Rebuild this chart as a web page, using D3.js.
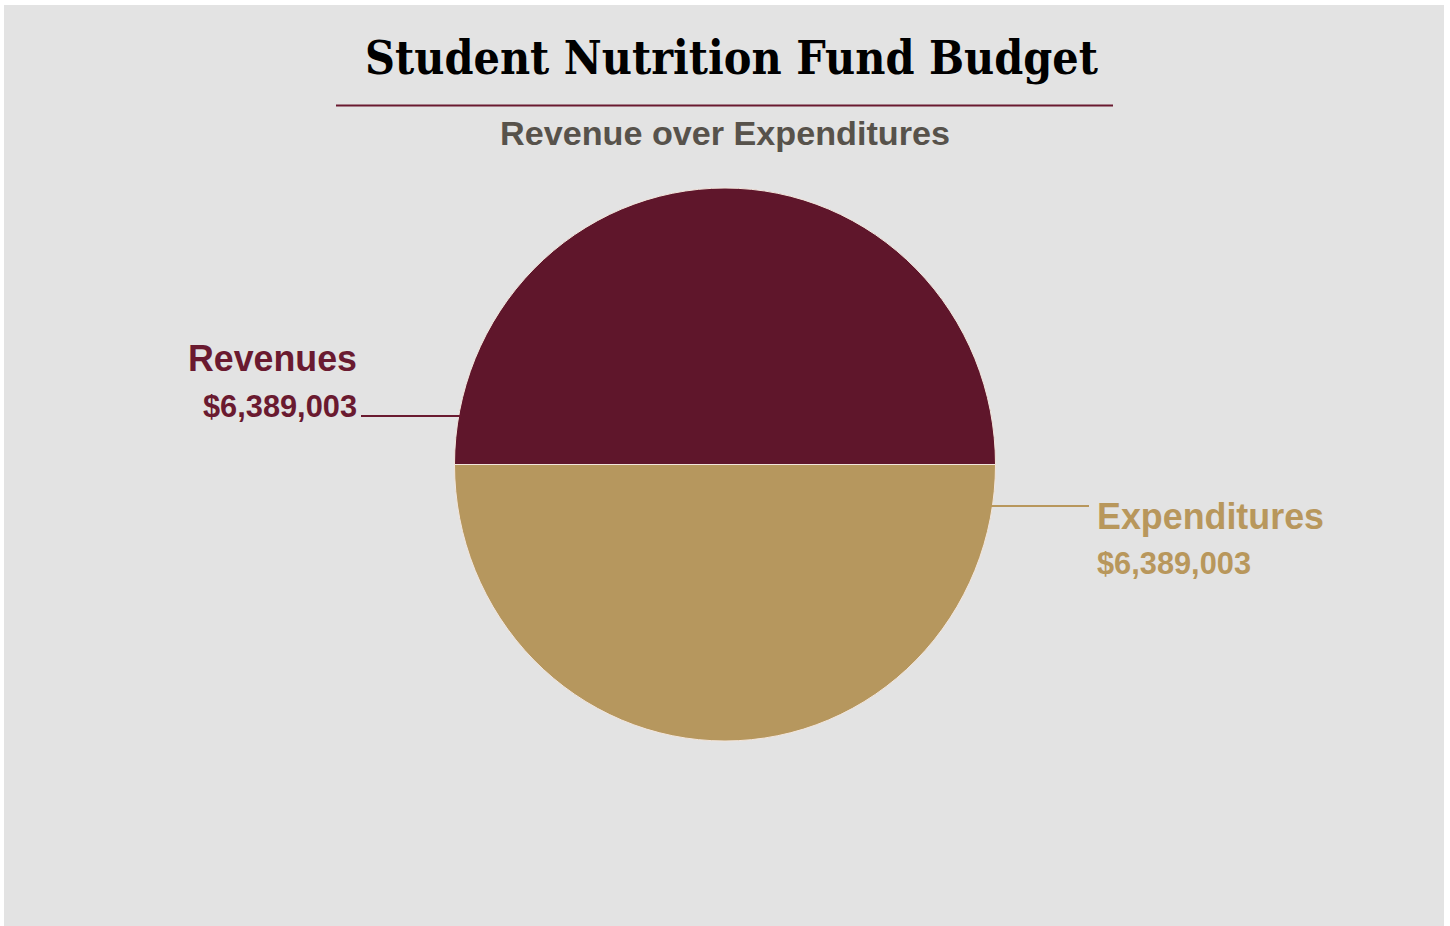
<!DOCTYPE html>
<html>
<head>
<meta charset="utf-8">
<script src="https://cdn.jsdelivr.net/npm/d3@7"></script>
<style>
  html, body { margin: 0; padding: 0; background: #ffffff; }
  svg { display: block; }
</style>
</head>
<body>
<svg id="chart" width="1450" height="926"></svg>
<script>
// Budget figures
const categories = ["Revenues", "Expenditures"];
const amounts = [6389003, 6389003];
const titleText = "Student Nutrition Fund Budget";
const subtitleText = "Revenue over Expenditures";

const sliceColors = ["#5f162b", "#b6975e"];
const labelColors = ["#6a1a30", "#b8975c"];

const svg = d3.select("#chart");
const W = 1450, H = 926;

// panel background
svg.append("rect")
  .attr("x", 4).attr("y", 5)
  .attr("width", 1440).attr("height", H - 5)
  .attr("fill", "#e3e3e3");

// title block
svg.append("text")
  .attr("x", 731.5).attr("y", 74)
  .attr("text-anchor", "middle")
  .attr("font-family", "Georgia, 'DejaVu Serif', serif")
  .attr("font-weight", "bold")
  .attr("font-size", 47)
  .attr("textLength", 733)
  .attr("lengthAdjust", "spacingAndGlyphs")
  .attr("fill", "#000000")
  .text(titleText);

svg.append("line")
  .attr("x1", 336).attr("x2", 1113)
  .attr("y1", 105.5).attr("y2", 105.5)
  .attr("stroke", "#6a1a30")
  .attr("stroke-width", 2);

svg.append("text")
  .attr("x", 725).attr("y", 145)
  .attr("text-anchor", "middle")
  .attr("font-family", "Arial, 'Liberation Sans', sans-serif")
  .attr("font-weight", "bold")
  .attr("font-size", 33)
  .attr("textLength", 450)
  .attr("lengthAdjust", "spacingAndGlyphs")
  .attr("fill", "#57524b")
  .text(subtitleText);

// pie
const cx = 725, cy = 464.5, radius = 270.5, yStretch = 276.5 / 270.5;

const pie = d3.pie()
  .sort(null)
  .startAngle(-Math.PI / 2)
  .endAngle(1.5 * Math.PI)
  .value(d => d);

const arcs = pie(amounts);
const arc = d3.arc().innerRadius(0).outerRadius(radius);

const g = svg.append("g")
  .attr("transform", `translate(${cx},${cy}) scale(1,${yStretch})`);

g.selectAll("path")
  .data(arcs)
  .join("path")
  .attr("d", arc)
  .attr("fill", (d, i) => sliceColors[i])
  .attr("stroke", "#f3e6dc")
  .attr("stroke-width", 1)
  .attr("vector-effect", "non-scaling-stroke");

// leader lines and labels
const fmt = d3.format("$,");
const money = v => fmt(v);

// point on the pie rim for a given vertical offset from the centre
function rimX(dy, side) {
  const yy = dy / yStretch;
  return cx + side * Math.sqrt(radius * radius - yy * yy);
}

const labelSpecs = [
  { lineY: 416, side: -1, lineEnd: 361, anchor: "end", tx: 357, nameY: 371, valueY: 417, nameLen: 169, valueLen: 154 },
  { lineY: 506, side: 1, lineEnd: 1089, anchor: "start", tx: 1097, nameY: 529, valueY: 574, nameLen: 227, valueLen: 154 }
];

arcs.forEach((a, i) => {
  const s = labelSpecs[i];
  svg.append("line")
    .attr("x1", rimX(s.lineY - cy, s.side) - s.side * 2)
    .attr("x2", s.lineEnd)
    .attr("y1", s.lineY).attr("y2", s.lineY)
    .attr("stroke", labelColors[i])
    .attr("stroke-width", 2);

  svg.append("text")
    .attr("x", s.tx).attr("y", s.nameY)
    .attr("text-anchor", s.anchor)
    .attr("font-family", "Arial, 'Liberation Sans', sans-serif")
    .attr("font-weight", "bold")
    .attr("font-size", 36)
    .attr("textLength", s.nameLen)
    .attr("lengthAdjust", "spacingAndGlyphs")
    .attr("fill", labelColors[i])
    .text(categories[i]);

  svg.append("text")
    .attr("x", s.tx).attr("y", s.valueY)
    .attr("text-anchor", s.anchor)
    .attr("font-family", "Arial, 'Liberation Sans', sans-serif")
    .attr("font-weight", "bold")
    .attr("font-size", 31)
    .attr("textLength", s.valueLen)
    .attr("lengthAdjust", "spacingAndGlyphs")
    .attr("fill", labelColors[i])
    .text(money(a.value));
});
</script>
</body>
</html>
